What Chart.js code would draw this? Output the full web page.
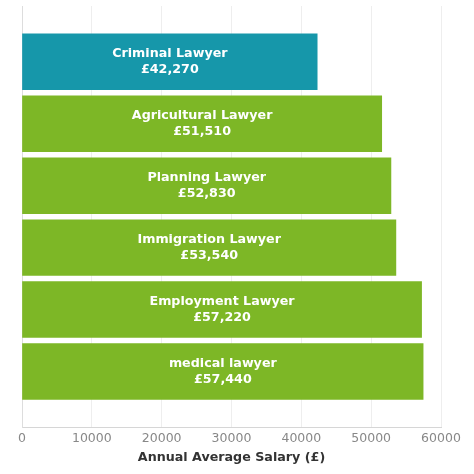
<!DOCTYPE html>
<html><head><meta charset="utf-8">
<script src="https://cdn.jsdelivr.net/npm/chart.js@4"></script>
<style>html,body{margin:0;padding:0;background:#fff}#wrap{width:474px;height:474px}</style>
</head><body><div id="wrap"><canvas id="c" width="474" height="474"></canvas></div>
<script>
const categories = ["Criminal Lawyer","Agricultural Lawyer","Planning Lawyer","Immigration Lawyer","Employment Lawyer","medical lawyer"];
const salaries = [42270,51510,52830,53540,57220,57440];
const valueLabels = ["£42,270","£51,510","£52,830","£53,540","£57,220","£57,440"];
const barColors = ["#1697aa","#7db726","#7db726","#7db726","#7db726","#7db726"];
const xTicks = [0,10000,20000,30000,40000,50000,60000];

const FONT = "'DejaVu Sans', sans-serif";
const labelPlugin = {
  id:'labels',
  afterDatasetsDraw(chart){
    const ctx = chart.ctx;
    const meta = chart.getDatasetMeta(0);
    ctx.save();
    ctx.fillStyle = '#fff';
    ctx.font = "bold 12.7px " + FONT;
    ctx.textAlign = 'center';
    ctx.textBaseline = 'middle';
    meta.data.forEach((bar,i)=>{
      const cx = (bar.base + bar.x)/2;
      ctx.fillText(categories[i], cx, bar.y - 8);
      ctx.fillText(valueLabels[i], cx, bar.y + 8);
    });
    ctx.restore();
  }
};

new Chart(document.getElementById('c'), {
  type:'bar',
  data:{
    datasets:[{
      data: salaries.map((v,i)=>({x:v,y:i})),
      backgroundColor: barColors,
      barPercentage:1.0,
      categoryPercentage:1
    }]
  },
  options:{
    indexAxis:'y',
    responsive:false,
    animation:false,
    layout:{padding:{left:22,right:33,top:6,bottom:10}},
    plugins:{legend:{display:false},tooltip:{enabled:false}},
    scales:{
      x:{
        type:'linear', min:0, max:60000,
        afterBuildTicks(scale){ scale.ticks = xTicks.map(v=>({value:v})); },
        ticks:{color:'#888', font:{family:FONT,size:12.5}, padding:4, maxRotation:0, callback:(v)=>String(v)},
        grid:{color:'#eeeeee', drawTicks:false},
        border:{color:'#d6d6d6'},
        title:{display:true,text:'Annual Average Salary (£)',color:'#333',font:{family:FONT,size:12.7,weight:'bold',lineHeight:1.0},padding:{top:1,bottom:0}}
      },
      y:{
        type:'linear', min:-0.9, max:5.9, reverse:true, offset:false,
        ticks:{display:false},
        grid:{display:false, drawTicks:false},
        border:{color:'#dddddd'}
      }
    }
  },
  plugins:[labelPlugin]
});
</script></body></html>
